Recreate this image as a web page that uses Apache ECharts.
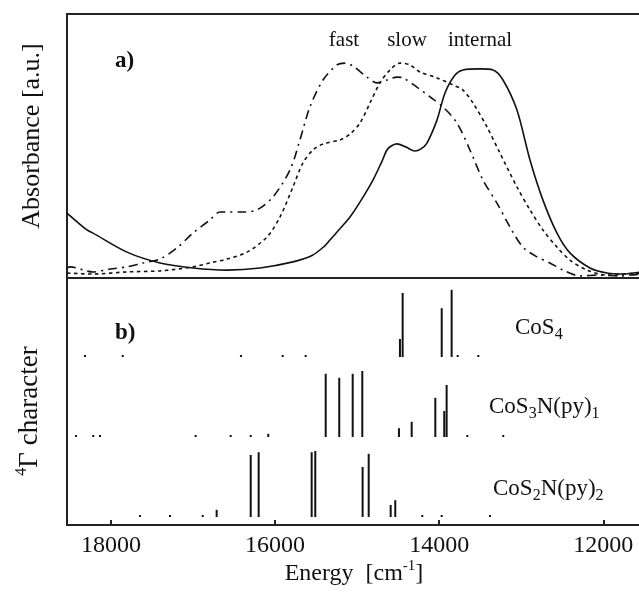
<!DOCTYPE html>
<html>
<head>
<meta charset="utf-8">
<script src="https://cdn.jsdelivr.net/npm/echarts@6/dist/echarts.min.js"></script>
<style>
  html, body { margin: 0; padding: 0; background: #fff; }
  #chart { width: 639px; height: 593px; }
</style>
</head>
<body>
<div id="chart"></div>
<script>
// ---- Panel a) absorbance spectra: [energy cm^-1, absorbance a.u.] ----
const internalBand = [
  [18536, 0.246], [18293, 0.182], [18219, 0.170], [17805, 0.098], [17403, 0.057],
  [17001, 0.038], [16586, 0.030], [16184, 0.038], [15782, 0.061], [15550, 0.085],
  [15400, 0.120], [15331, 0.144], [15200, 0.190], [15087, 0.231], [14941, 0.300],
  [14807, 0.371], [14700, 0.440], [14624, 0.490], [14514, 0.508], [14405, 0.496],
  [14295, 0.481], [14222, 0.489], [14149, 0.511], [14027, 0.598], [13929, 0.701],
  [13807, 0.769], [13710, 0.788], [13503, 0.792], [13344, 0.788], [13222, 0.750],
  [13052, 0.636], [12893, 0.447], [12735, 0.295], [12564, 0.170], [12406, 0.095],
  [12162, 0.038], [11955, 0.019], [11760, 0.015], [11540, 0.023]
];
const fastBand = [
  [18536, 0.038], [18500, 0.042], [18219, 0.023], [18012, 0.034], [17805, 0.042],
  [17610, 0.057], [17403, 0.072], [17196, 0.114], [17001, 0.170], [16793, 0.220],
  [16671, 0.250], [16391, 0.250], [16221, 0.258], [16026, 0.307], [15818, 0.409],
  [15697, 0.523], [15575, 0.648], [15416, 0.750], [15246, 0.807], [15148, 0.814],
  [15051, 0.803], [14880, 0.761], [14758, 0.739], [14636, 0.750], [14514, 0.761],
  [14441, 0.758], [14271, 0.723], [14112, 0.686], [13954, 0.648], [13783, 0.587],
  [13625, 0.485], [13466, 0.371], [13296, 0.284], [13137, 0.193], [12979, 0.117],
  [12808, 0.080], [12650, 0.057], [12491, 0.030], [12284, 0.008], [12040, 0.011],
  [11796, 0.008], [11540, 0.015]
];
const slowBand = [
  [18536, 0.019], [18219, 0.015], [17805, 0.023], [17403, 0.027], [17001, 0.042],
  [16793, 0.057], [16586, 0.072], [16342, 0.098], [16099, 0.155], [15940, 0.231],
  [15782, 0.345], [15660, 0.436], [15538, 0.485], [15416, 0.508], [15209, 0.523],
  [15087, 0.545], [14965, 0.587], [14843, 0.663], [14721, 0.739], [14600, 0.788],
  [14478, 0.814], [14356, 0.807], [14234, 0.780], [14027, 0.758], [13832, 0.731],
  [13710, 0.712], [13588, 0.663], [13417, 0.572], [13259, 0.473], [13052, 0.345],
  [12893, 0.258], [12735, 0.182], [12564, 0.117], [12406, 0.068], [12199, 0.030],
  [11955, 0.011], [11760, 0.015], [11540, 0.019]
];

// ---- Panel b) 4Γ character of the computed transitions: [energy, character] ----
const cos4Sticks = [
  [18317, 0.025], [17857, 0.025], [16416, 0.025], [15907, 0.025], [15627, 0.025],
  [14478, 0.225], [14445, 0.80], [13969, 0.61], [13848, 0.84],
  [13774, 0.025], [13523, 0.025]
];
const cos3nSticks = [
  [18427, 0.025], [18216, 0.025], [18134, 0.025], [16968, 0.025], [16541, 0.025],
  [16297, 0.025], [16083, 0.04],
  [15383, 0.79], [15218, 0.74], [15054, 0.79], [14937, 0.825],
  [14490, 0.11], [14335, 0.19], [14047, 0.49], [13938, 0.325], [13909, 0.65],
  [13657, 0.025], [13219, 0.025]
];
const cos2nSticks = [
  [17647, 0.025], [17281, 0.025], [16882, 0.025], [16712, 0.09],
  [16297, 0.775], [16200, 0.81], [15554, 0.81], [15510, 0.825],
  [14933, 0.625], [14859, 0.79], [14591, 0.15], [14535, 0.21],
  [14206, 0.025], [13969, 0.025], [13381, 0.025]
];

const energyTicks = [12000, 14000, 16000, 18000];
const bandNames = ['fast', 'slow', 'internal'];

// vertical offset of each stick spectrum inside panel b)
const rowOffset = { cos4: 2.1, cos3n: 1.1, cos2n: 0.1 };

const serif = 'Liberation Serif, Times New Roman, serif';
const ink = '#111';

function stickSeries(sticks, offset) {
  return {
    type: 'custom',
    xAxisIndex: 1,
    yAxisIndex: 1,
    data: sticks.map(s => [s[0], offset, s[1]]),
    encode: { x: 0, y: [1, 2] },
    silent: true,
    renderItem: function (params, api) {
      const e = api.value(0);
      const base = api.value(1);
      const h = api.value(2);
      const p0 = api.coord([e, base]);
      const p1 = api.coord([e, base + h]);
      return {
        type: 'line',
        shape: { x1: p0[0], y1: p0[1], x2: p1[0], y2: p1[1] },
        style: { stroke: ink, lineWidth: 2 }
      };
    }
  };
}

function bandSeries(data, dash) {
  return {
    type: 'line',
    xAxisIndex: 0,
    yAxisIndex: 0,
    data: data,
    smooth: 0.3,
    showSymbol: false,
    silent: true,
    lineStyle: { color: ink, width: 1.6, type: dash }
  };
}

const chart = echarts.init(document.getElementById('chart'), null, { renderer: 'canvas' });

const xRange = { min: 11540, max: 18536 };

const subRich = {
  t: { fontFamily: serif, fontSize: 23, fill: ink, lineHeight: 30 },
  s: { fontFamily: serif, fontSize: 16, fill: ink, lineHeight: 16, verticalAlign: 'bottom' }
};

chart.setOption({
  animation: false,
  backgroundColor: '#fff',
  grid: [
    { left: 67, top: 14, width: 574, height: 264, show: true, borderColor: '#222', borderWidth: 2,
      backgroundColor: 'transparent', containLabel: false, outerBoundsMode: 'none' },
    { left: 67, top: 278, width: 574, height: 247, show: true, borderColor: '#222', borderWidth: 2,
      backgroundColor: 'transparent', containLabel: false, outerBoundsMode: 'none' }
  ],
  xAxis: [
    {
      gridIndex: 0, type: 'value', inverse: true, min: xRange.min, max: xRange.max,
      axisLine: { show: false }, axisTick: { show: false }, axisLabel: { show: false }, splitLine: { show: false }
    },
    {
      gridIndex: 1, type: 'value', inverse: true, min: xRange.min, max: xRange.max,
      axisLine: { show: true, lineStyle: { color: '#222', width: 2 } },
      axisTick: { show: true, inside: true, length: 5, lineStyle: { color: '#222', width: 2 }, customValues: energyTicks },
      axisLabel: {
        show: true, customValues: energyTicks, margin: 9,
        fontFamily: serif, fontSize: 24, color: ink,
        formatter: v => String(v)
      },
      splitLine: { show: false },
      name: '{t|Energy  [cm}{s|-1}{t|]}',
      nameLocation: 'middle',
      nameGap: 32,
      nameTextStyle: {
        rich: {
          t: { fontFamily: serif, fontSize: 24, color: ink, lineHeight: 30 },
          s: { fontFamily: serif, fontSize: 15, color: ink, lineHeight: 15, verticalAlign: 'top' }
        }
      }
    }
  ],
  yAxis: [
    {
      gridIndex: 0, type: 'value', min: 0, max: 1,
      axisLine: { show: false }, axisTick: { show: false }, axisLabel: { show: false }, splitLine: { show: false }
    },
    {
      gridIndex: 1, type: 'value', min: 0, max: 3.0875,
      axisLine: { show: false }, axisTick: { show: false }, axisLabel: { show: false }, splitLine: { show: false }
    }
  ],
  series: [
    bandSeries(fastBand, [9, 5, 2, 5]),
    bandSeries(slowBand, [3.5, 3.5]),
    bandSeries(internalBand, 'solid'),
    stickSeries(cos4Sticks, rowOffset.cos4),
    stickSeries(cos3nSticks, rowOffset.cos3n),
    stickSeries(cos2nSticks, rowOffset.cos2n)
  ],
  graphic: [
    // vertical axis titles
    {
      type: 'text', x: 32, y: 136, rotation: Math.PI / 2,
      style: { text: 'Absorbance [a.u.]', fontFamily: serif, fontSize: 26, fill: ink, align: 'center', verticalAlign: 'middle' }
    },
    {
      type: 'text', x: 30, y: 411, rotation: Math.PI / 2,
      style: {
        text: '{s|4}{t|Γ character}', align: 'center', verticalAlign: 'middle',
        rich: {
          t: { fontFamily: serif, fontSize: 27, fill: ink, lineHeight: 32 },
          s: { fontFamily: serif, fontSize: 16, fill: ink, lineHeight: 16, verticalAlign: 'top' }
        }
      }
    },
    // panel tags and band labels
    { type: 'text', left: 115, top: 50, style: { text: 'a)', fontFamily: serif, fontSize: 23, fontWeight: 'bold', fill: ink } },
    { type: 'text', left: 115, top: 322, style: { text: 'b)', fontFamily: serif, fontSize: 23, fontWeight: 'bold', fill: ink } },
    { type: 'text', x: 344, y: 40, style: { text: bandNames[0], fontFamily: serif, fontSize: 21, fill: ink, align: 'center', verticalAlign: 'middle' } },
    { type: 'text', x: 407, y: 40, style: { text: bandNames[1], fontFamily: serif, fontSize: 21, fill: ink, align: 'center', verticalAlign: 'middle' } },
    { type: 'text', x: 480, y: 40, style: { text: bandNames[2], fontFamily: serif, fontSize: 21, fill: ink, align: 'center', verticalAlign: 'middle' } },
    // compound labels for the stick spectra
    { type: 'text', left: 515, top: 316, style: { text: '{t|CoS}{s|4}', rich: subRich } },
    { type: 'text', left: 489, top: 395, style: { text: '{t|CoS}{s|3}{t|N(py)}{s|1}', rich: subRich } },
    { type: 'text', left: 493, top: 477, style: { text: '{t|CoS}{s|2}{t|N(py)}{s|2}', rich: subRich } }
  ]
});
</script>
</body>
</html>
